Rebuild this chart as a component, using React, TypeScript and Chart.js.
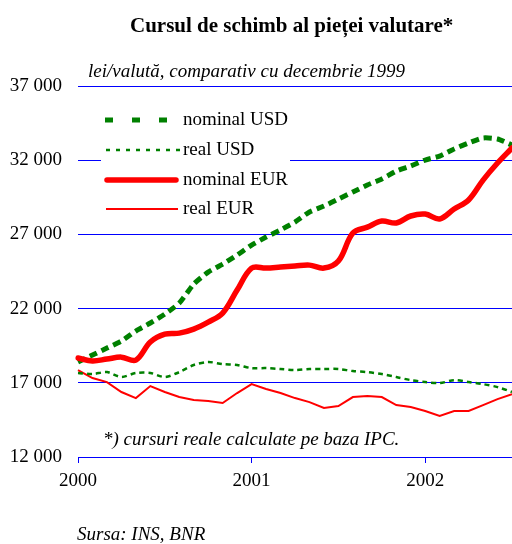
import { useEffect, useRef } from "react";
import { Chart, registerables } from "chart.js";

Chart.register(...registerables);

const months = [
  "2000-01", "2000-02", "2000-03", "2000-04", "2000-05", "2000-06", "2000-07", "2000-08", "2000-09", "2000-10", "2000-11", "2000-12",
  "2001-01", "2001-02", "2001-03", "2001-04", "2001-05", "2001-06", "2001-07", "2001-08", "2001-09", "2001-10", "2001-11", "2001-12",
  "2002-01", "2002-02", "2002-03", "2002-04", "2002-05", "2002-06", "2002-07",
];
const yearTicks = ["2000", "2001", "2002"];
const yTicks = [12000, 17000, 22000, 27000, 32000, 37000];

const nominalUSD = [18400, 18870, 19340, 19810, 20490, 21030, 21630, 22370, 23650, 24460, 25000, 25610, 26280, 26820, 27300, 27830, 28510, 28910, 29380, 29860, 30330, 30730, 31270, 31610, 32010, 32280, 32760, 33160, 33500, 33430, 33020];
const realUSD = [17660, 17590, 17720, 17390, 17660, 17660, 17390, 17720, 18200, 18400, 18260, 18200, 17990, 17990, 17930, 17860, 17930, 17930, 17930, 17790, 17720, 17590, 17390, 17180, 17050, 16980, 17180, 17050, 16910, 16710, 16380];
const nominalEUR = [18670, 18470, 18600, 18730, 18530, 19750, 20280, 20350, 20620, 21090, 21700, 23250, 24730, 24730, 24800, 24870, 24930, 24730, 25200, 27090, 27490, 27900, 27770, 28240, 28370, 28040, 28710, 29320, 30660, 31810, 32820];
const realEUR = [17860, 17320, 17050, 16380, 15970, 16780, 16380, 16040, 15840, 15770, 15640, 16310, 16910, 16580, 16310, 15970, 15700, 15300, 15430, 16040, 16110, 16040, 15500, 15370, 15100, 14760, 15100, 15100, 15500, 15900, 16240];

const seriesNames = ["nominal USD", "real USD", "nominal EUR", "real EUR"];
const titleText = "Cursul de schimb al pieței valutare*";
const subtitleText = "lei/valută, comparativ cu decembrie 1999";
const footnoteText = "*) cursuri reale calculate pe baza IPC.";
const sourceText = "Sursa: INS, BNR";

const GREEN = "#008000";
const RED = "#ff0000";
const BLUE = "#0000ff";
const SERIF = "'Liberation Serif', 'Times New Roman', serif";

function fmt(v: number) {
  const s = String(Math.round(v));
  return s.replace(/\B(?=(\d{3})+(?!\d))/g, " ");
}

const legendPlugin = {
  id: "customLegend",
  beforeDatasetsDraw(chart: any) {
    const ctx = chart.ctx;
    ctx.save();
    ctx.fillStyle = "#ffffff";
    ctx.fillRect(101, 100, 189, 122);
    const rows = [120, 150, 180, 209];
    const styles = [
      { color: GREEN, width: 5, dash: [8, 19], cap: "butt", x1: 105, x2: 170 },
      { color: GREEN, width: 2.5, dash: [4, 6], cap: "butt", x1: 106, x2: 180 },
      { color: RED, width: 5.5, dash: [], cap: "round", x1: 107, x2: 176 },
      { color: RED, width: 2, dash: [], cap: "butt", x1: 106, x2: 178 },
    ];
    styles.forEach((s, i) => {
      ctx.beginPath();
      ctx.strokeStyle = s.color;
      ctx.lineWidth = s.width;
      ctx.setLineDash(s.dash);
      ctx.lineCap = s.cap;
      ctx.moveTo(s.x1, rows[i]);
      ctx.lineTo(s.x2, rows[i]);
      ctx.stroke();
    });
    ctx.setLineDash([]);
    ctx.fillStyle = "#000";
    ctx.font = `19px ${SERIF}`;
    ctx.textAlign = "left";
    ctx.textBaseline = "middle";
    seriesNames.forEach((n, i) => ctx.fillText(n, 183, rows[i]));
    ctx.restore();
  },
  afterDraw(chart: any) {
    const ctx = chart.ctx;
    ctx.save();
    ctx.fillStyle = "#000";
    ctx.textAlign = "left";
    ctx.textBaseline = "alphabetic";
    ctx.font = `bold 21px ${SERIF}`;
    ctx.fillText(titleText, 130, 32);
    ctx.font = `italic 19px ${SERIF}`;
    ctx.fillText(subtitleText, 88, 77);
    ctx.fillText(footnoteText, 103, 445);
    ctx.fillText(sourceText, 77, 540);
    ctx.restore();
  },
};

export default function App() {
  const ref = useRef<HTMLCanvasElement | null>(null);
  useEffect(() => {
    if (!ref.current) return;
    const chart = new Chart(ref.current, {
      type: "line",
      data: {
        labels: months,
        datasets: [
          { label: seriesNames[1], data: realUSD, borderColor: GREEN, borderWidth: 2.5, borderDash: [5, 4], pointRadius: 0, tension: 0.3, fill: false },
          { label: seriesNames[3], data: realEUR, borderColor: RED, borderWidth: 2, pointRadius: 0, tension: 0, fill: false },
          { label: seriesNames[2], data: nominalEUR, borderColor: RED, borderWidth: 5.5, pointRadius: 0, tension: 0.35, fill: false, borderCapStyle: "round", borderJoinStyle: "round" },
          { label: seriesNames[0], data: nominalUSD, borderColor: GREEN, borderWidth: 5, borderDash: [8, 5], pointRadius: 0, tension: 0.2, fill: false },
        ],
      },
      options: {
        animation: false,
        responsive: false,
        layout: { padding: { top: 86, right: 0, left: 0, bottom: 0 } },
        plugins: { legend: { display: false }, tooltip: { enabled: false }, title: { display: false } },
        scales: {
          x: {
            type: "category",
            offset: false,
            grid: { display: true, drawOnChartArea: false, drawTicks: true, tickLength: 6, color: BLUE, offset: false },
            border: { display: true, color: BLUE, width: 1 },
            afterBuildTicks: (scale: any) => {
              scale.ticks = scale.ticks.filter((t: any) => yearTicks.includes(months[t.value]?.slice(0, 4)) && months[t.value].endsWith("-01"));
            },
            afterFit: (scale: any) => { scale.height = 87; },
            ticks: {
              autoSkip: false,
              maxRotation: 0,
              padding: 7,
              color: "#000",
              font: { family: SERIF, size: 19 },
              callback: function (this: any, value: any) {
                return months[value].slice(0, 4);
              },
            },
          },
          y: {
            min: 12000,
            max: 37000,
            afterBuildTicks: (scale: any) => { scale.ticks = yTicks.map((v) => ({ value: v })); },
            afterFit: (scale: any) => { scale.width = 78; },
            grid: { color: BLUE, drawTicks: false, lineWidth: 1 },
            border: { display: false },
            ticks: {
              padding: 16,
              color: "#000",
              font: { family: SERIF, size: 19 },
              callback: (v: any) => fmt(Number(v)),
            },
          },
        },
      },
      plugins: [legendPlugin],
    });
    return () => chart.destroy();
  }, []);
  return (
    <div style={{ position: "absolute", left: 0, top: 0, width: 512, height: 544, background: "#fff" }}>
      <canvas ref={ref} width={512} height={544} style={{ display: "block" }} />
    </div>
  );
}
